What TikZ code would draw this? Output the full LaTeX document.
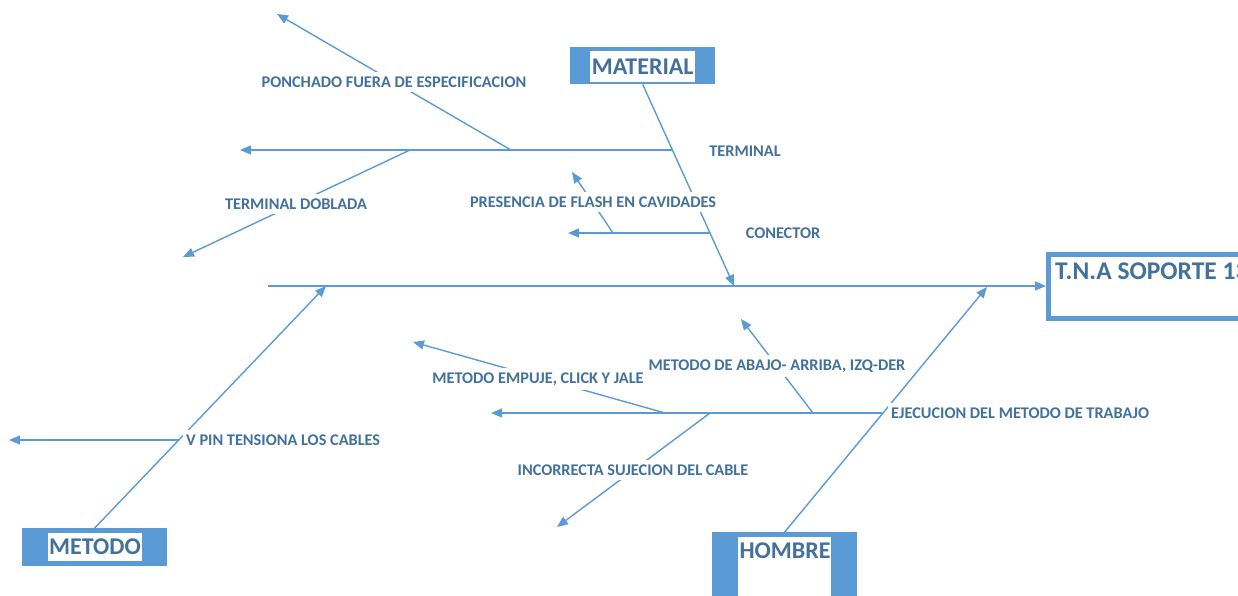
\documentclass[tikz,border=0pt]{standalone}
\usepackage{fontspec}
\setmainfont{Carlito}
\usetikzlibrary{arrows.meta}
\definecolor{lineblue}{HTML}{5B9BD5}
\definecolor{textblue}{HTML}{41719C}
\begin{document}
\begin{tikzpicture}[x=1pt,y=-1pt,
  bone/.style={draw=lineblue, line width=1.4pt},
  arr/.style={bone, -{Triangle[length=11pt,width=9pt]}},
  lbl/.style={font=\bfseries\fontsize{16.3}{19}\selectfont, text=textblue, fill=white, inner xsep=3pt, inner ysep=5pt},
  catbox/.style={fill=lineblue, draw=none, inner sep=0pt, anchor=north west},
  whitebox/.style={fill=white, draw=none, inner sep=0pt, anchor=north west},
  cattxt/.style={font=\bfseries\fontsize{24}{28}\selectfont, text=textblue, inner sep=0pt}
]
\useasboundingbox (0,0) rectangle (1238,595);

% ---- head box
\node[draw=lineblue, line width=4.5pt, minimum width=204pt, minimum height=64pt, anchor=north west, inner sep=0pt] (tnabox) at (1046,252) {};
\node[cattxt, font=\bfseries\fontsize{25.5}{30}\selectfont, anchor=base west] (tnatxt) at (1055,279) {T.N.A SOPORTE 13};

% ---- category boxes
\node[catbox, minimum width=145pt, minimum height=37pt] (matbox) at (570,47) {};
\node[whitebox, minimum width=105pt, minimum height=31pt] (matwhite) at (590,51) {};
\node[cattxt] (mattxt) at (matwhite.center) {MATERIAL};

\node[catbox, minimum width=145pt, minimum height=38pt] (metbox) at (22,528) {};
\node[whitebox, minimum width=94pt, minimum height=28pt] (metwhite) at (48,533) {};
\node[cattxt] (mettxt) at (95,547) {METODO};

\node[catbox, minimum width=145pt, minimum height=75pt] (hombox) at (712,532) {};
\node[whitebox, minimum width=93pt, minimum height=70pt] (homwhite) at (738,537) {};
\node[cattxt] (homtxt) at (785,551) {HOMBRE};

% ---- coordinates
\coordinate (spstart) at (268,286);
\coordinate (mattip) at (734,286);
\coordinate (mettip) at (326,286);
\coordinate (homtip) at (987,287);

\coordinate (termroot) at (672,150);
\coordinate (termtip) at (240,150);
\coordinate (ponroot) at (511,150);
\coordinate (pontip) at (277,14);
\coordinate (dobroot) at (410,150);
\coordinate (dobtip) at (183,257);

\coordinate (conroot) at (710,233);
\coordinate (contip) at (568,233);
\coordinate (preroot) at (613,233);
\coordinate (pretip) at (572,172);

\coordinate (vpinroot) at (179,440);
\coordinate (vpintip) at (9,440);

\coordinate (ejeroot) at (882,413);
\coordinate (ejetip) at (491,413);
\coordinate (emproot) at (665,413);
\coordinate (emptip) at (413,342);
\coordinate (abaroot) at (813,413);
\coordinate (abatip) at (741,319);
\coordinate (incroot) at (710,413);
\coordinate (inctip) at (557,527);

% ---- bones
\draw[arr] (spstart) -- (spstart -| tnabox.west);
\draw[arr] (matbox.south) -- (mattip);
\draw[arr] (metbox.north) -- (mettip);
\draw[arr] (hombox.north) -- (homtip);

\draw[arr] (termroot) -- (termtip);
\draw[arr] (ponroot) -- (pontip);
\draw[arr] (dobroot) -- (dobtip);
\draw[arr] (conroot) -- (contip);
\draw[arr] (preroot) -- (pretip);
\draw[arr] (vpinroot) -- (vpintip);
\draw[arr] (ejeroot) -- (ejetip);
\draw[arr] (emproot) -- (emptip);
\draw[arr] (abaroot) -- (abatip);
\draw[arr] (incroot) -- (inctip);

% ---- labels
\node[lbl] (lpon) at (394,82) {PONCHADO FUERA DE ESPECIFICACION};
\node[lbl] (lterm) at (745,151) {TERMINAL};
\node[lbl] (ldob) at (296,204) {TERMINAL DOBLADA};
\node[lbl] (lpre) at (593,202) {PRESENCIA DE FLASH EN CAVIDADES};
\node[lbl] (lcon) at (783,233) {CONECTOR};
\node[lbl] (laba) at (777,366) {METODO DE ABAJO- ARRIBA, IZQ-DER};
\node[lbl] (lemp) at (538,379) {METODO EMPUJE, CLICK Y JALE};
\node[lbl, anchor=west] (leje) at (888,413) {EJECUCION DEL METODO DE TRABAJO};
\node[lbl] (linc) at (633,470) {INCORRECTA SUJECION DEL CABLE};
\node[lbl, anchor=west] (lvpin) at (183,440) {V PIN TENSIONA LOS CABLES};
\end{tikzpicture}
\end{document}
